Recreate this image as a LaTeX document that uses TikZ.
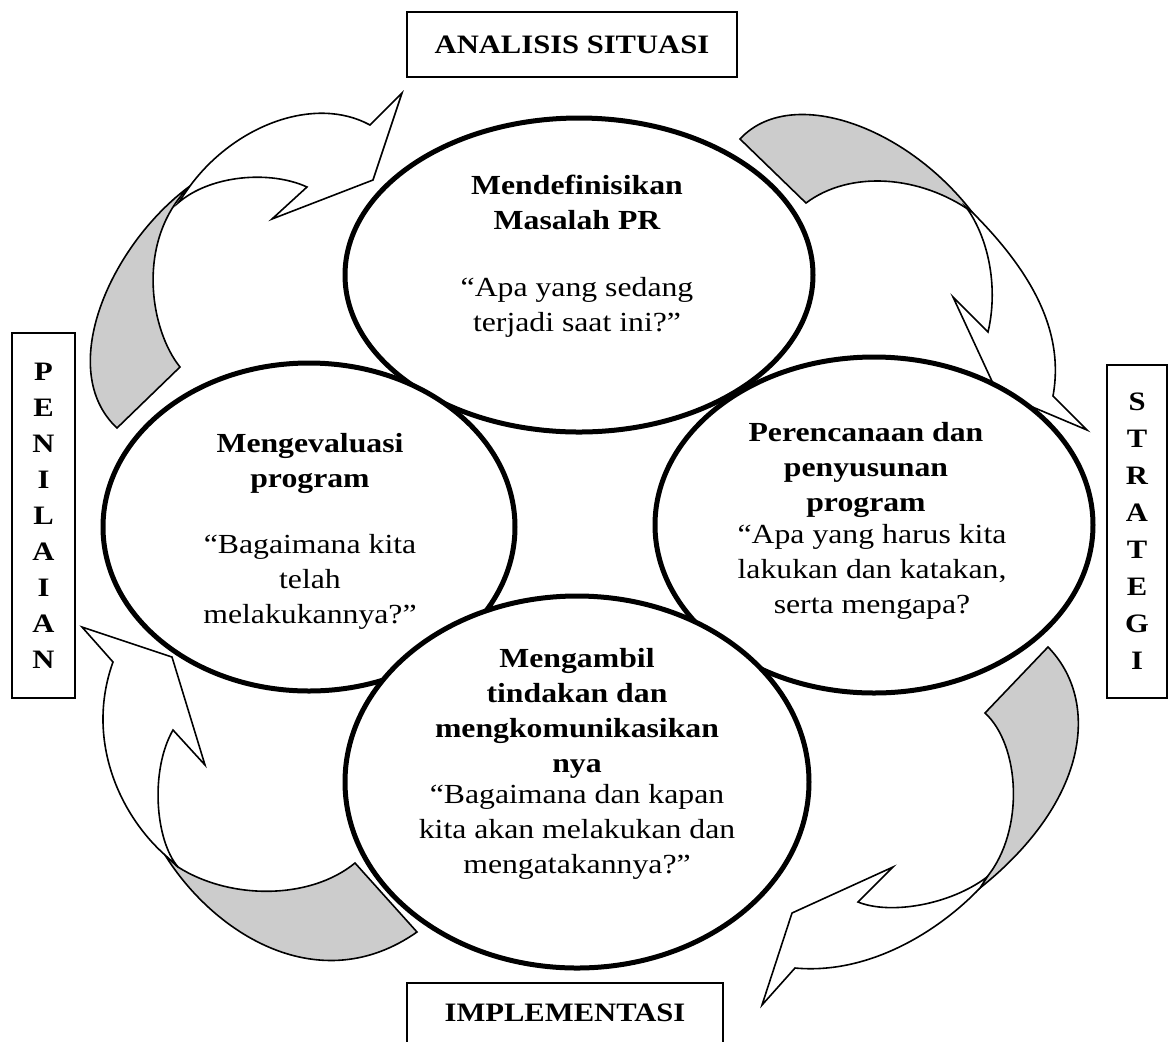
\documentclass[tikz,border=0pt]{standalone}
\usepackage{fontspec}
\setmainfont{Liberation Serif}[FakeStretch=1.15]
\newcommand{\cyclefont}{\fontsize{13.8}{17.5}\selectfont}
\newcommand{\tagfont}{\fontsize{13.3}{17.5}\selectfont}
\tikzset{
  bubble/.style={fill=white, draw=black, line width=2.5pt},
  backside/.style={fill=black!20, draw=black, line width=0.8pt},
  frontside/.style={fill=white, draw=black, line width=0.8pt},
  title/.style={font=\cyclefont\bfseries, align=center},
  ask/.style={font=\cyclefont, align=center},
  tag/.style={draw=black, line width=0.8pt, fill=white, font=\tagfont\bfseries, align=center, inner sep=0pt}
}

\begin{document}
\begin{tikzpicture}[x=0.5pt, y=-0.5pt]
	\useasboundingbox (0,0) rectangle (1169,1041);
	% arrow up to the top
	\filldraw[backside] (117,428) -- (180,367) .. controls (150,330) and (135,240) .. (190,186) .. controls (110,245) and (55,370) .. cycle;
	\filldraw[frontside] (190,186) .. controls (235,125) and (315,95) .. (370,125) -- (402,93) -- (373,180) -- (272,219) -- (307,187) .. controls (270,170) and (210,175) .. (178,203) -- cycle;
	% arrow down the right
	\filldraw[backside] (740,139) -- (806,203) .. controls (850,170) and (920,175) .. (972,212) .. controls (905,125) and (790,85) .. cycle;
	\filldraw[frontside] (972,212) .. controls (1030,270) and (1065,330) .. (1053,396) -- (1087,430) -- (997,392) -- (953,297) -- (988,332) .. controls (998,290) and (990,240) .. (966,207) -- cycle;
	% arrow to the bottom
	\filldraw[backside] (1048,647) -- (985,713) .. controls (1020,745) and (1025,830) .. (987,877) -- (980,888) .. controls (1090,800) and (1100,700) .. cycle;
	\filldraw[frontside] (980,888) .. controls (940,930) and (870,975) .. (795,968) -- (762,1005) -- (792,913) -- (893,867) -- (858,902) .. controls (890,915) and (950,905) .. (987,877) -- cycle;
	% arrow up the left
	\filldraw[backside] (417,932) -- (355,863) .. controls (310,900) and (230,900) .. (178,867) -- (165,855) .. controls (215,935) and (320,1000) .. cycle;
	\filldraw[frontside] (165,855) .. controls (120,815) and (85,740) .. (113,662) -- (82,627) -- (172,657) -- (205,765) -- (173,730) .. controls (150,770) and (155,840) .. (178,867) -- cycle;
	% the four steps
	\foreach \cx/\cy/\rx/\ry in {579/275/234/157, 309/527/206/164, 874/525/219/168, 577/782/232/186}
		\filldraw[bubble] (\cx,\cy) ellipse [x radius=\rx, y radius=\ry];
	\node[title] (defTitle) at (577,202) {Mendefinisikan\\Masalah PR};
	\node[ask] (defAsk) at (577,307) {“Apa yang sedang\\terjadi saat ini?”};
	\node[title] (evalTitle) at (310,463) {Mengevaluasi\\program};
	\node[ask] (evalAsk) at (310,582) {“Bagaimana kita\\telah\\melakukannya?”};
	\node[title] (planTitle) at (866,470) {Perencanaan dan\\penyusunan\\program};
	\node[ask] (planAsk) at (872,572) {“Apa yang harus kita\\lakukan dan katakan,\\serta mengapa?};
	\node[title] (actTitle) at (577,713) {Mengambil\\tindakan dan\\mengkomunikasikan\\nya};
	\node[ask] (actAsk) at (577,832) {“Bagaimana dan kapan\\kita akan melakukan dan\\mengatakannya?”};
	% phase labels
	\node[tag, minimum width=165pt, minimum height=32.5pt] (situasi) at (572,44.5) {ANALISIS SITUASI};
	\node[tag, minimum width=31.5pt, minimum height=182.5pt, font=\fontsize{13.3}{18}\selectfont\bfseries] (penilaian) at (43.5,515.5) {P\\E\\N\\I\\L\\A\\I\\A\\N};
	\node[tag, minimum width=30pt, minimum height=166.5pt, font=\fontsize{13.3}{18.5}\selectfont\bfseries] (strategi) at (1137,531.5) {S\\T\\R\\A\\T\\E\\G\\I};
	\node[tag, minimum width=158pt, minimum height=30pt] (implementasi) at (565,1013) {IMPLEMENTASI};
\end{tikzpicture}
\end{document}
